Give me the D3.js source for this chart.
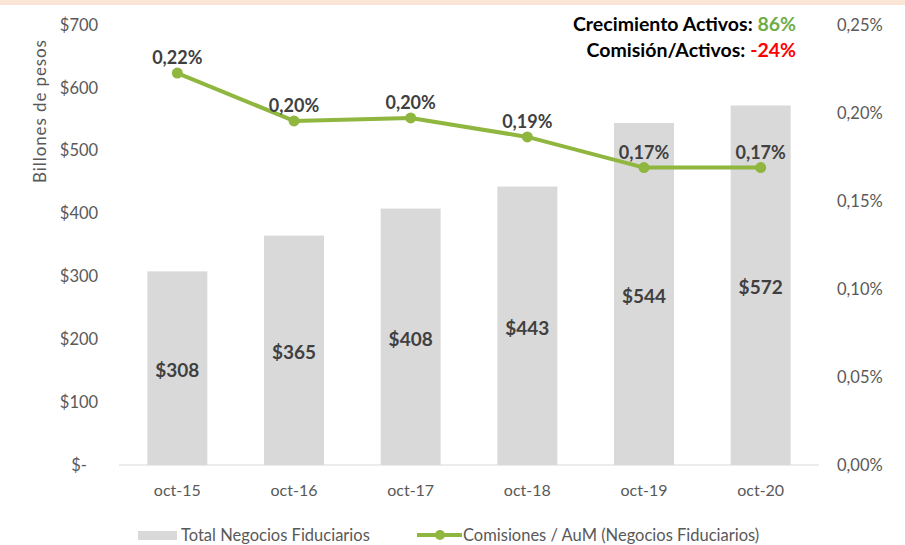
<!DOCTYPE html>
<html><head><meta charset="utf-8">
<script src="https://cdn.jsdelivr.net/npm/d3@7"></script>
<style>body{margin:0;background:#fff;}svg{display:block;font-family:Lato,"Open Sans",sans-serif;}</style>
</head><body>
<svg id="c" width="905" height="545"></svg>
<script>
const categories = ["oct-15","oct-16","oct-17","oct-18","oct-19","oct-20"];
const totalNegocios = [308,365,408,443,544,572];
const comisionesAuM = [0.2227,0.1955,0.1972,0.1864,0.1690,0.1690];
const comisionesLabels = ["0,22%","0,20%","0,20%","0,19%","0,17%","0,17%"];
const leftTicks = [0,100,200,300,400,500,600,700];
const rightTicks = [0,0.05,0.10,0.15,0.20,0.25];

const svg = d3.select("#c");
const W=905,H=545;
const m={l:119,r:86,t:25,b:80};
const x0=m.l,x1=W-m.r,y0=H-m.b,y1=m.t;
const green="#8fb63f", barC="#d9d9d9", txt="#595959", dark="#404040";

svg.append("rect").attr("x",0).attr("y",0).attr("width",W).attr("height",5).attr("fill","#fce4d6");

const x=d3.scaleBand().domain(categories).range([x0,x1]).paddingInner(0.486).paddingOuter(0.243);
const yL=d3.scaleLinear().domain([0,700]).range([y0,y1]);
const yR=d3.scaleLinear().domain([0,0.25]).range([y0,y1]);

// bars
svg.append("g").selectAll("rect").data(totalNegocios).join("rect")
  .attr("x",(d,i)=>x(categories[i])).attr("width",x.bandwidth())
  .attr("y",d=>yL(d)).attr("height",d=>yL(0)-yL(d)).attr("fill",barC);

// baseline
svg.append("line").attr("x1",x0).attr("x2",x1).attr("y1",y0).attr("y2",y0).attr("stroke","#d9d9d9").attr("stroke-width",1);

// left axis
const la=svg.append("g").attr("transform",`translate(${x0-40},0)`)
  .call(d3.axisLeft(yL).tickValues(leftTicks).tickSize(0).tickFormat(d=>d===0?"$-":"$"+d));
la.select(".domain").remove();
la.selectAll("text").attr("fill",txt).style("font-size","16.5px").attr("font-family","Lato").attr("text-anchor","middle").attr("x",0);

// right axis
const ra=svg.append("g").attr("transform",`translate(${x1+18},0)`)
  .call(d3.axisRight(yR).tickValues(rightTicks).tickSize(0).tickFormat(d=>d3.format(".2f")(d).replace(".",",")+"%"));
ra.select(".domain").remove();
ra.selectAll("text").attr("fill",txt).style("font-size","16.5px").attr("font-family","Lato").attr("x",0);

// x axis
const xa=svg.append("g").attr("transform",`translate(0,${y0})`)
  .call(d3.axisBottom(x).tickSize(0));
xa.select(".domain").remove();
xa.selectAll("text").attr("fill",txt).style("font-size","16px").attr("font-family","Lato").attr("dy","1.75em");

// y title
svg.append("text").attr("transform","translate(46,111) rotate(-90)").attr("text-anchor","middle")
  .attr("fill",txt).style("font-size","17px").style("letter-spacing","0.9px").text("Billones de pesos");

// bar labels
svg.append("g").selectAll("text").data(totalNegocios).join("text")
  .attr("x",(d,i)=>x(categories[i])+x.bandwidth()/2).attr("y",d=>(yL(d)+yL(0))/2+9)
  .attr("text-anchor","middle").attr("fill",dark).style("font-size","19px").style("font-weight","bold")
  .text(d=>"$"+d);

// line
const cx=(d,i)=>x(categories[i])+x.bandwidth()/2;
svg.append("path").datum(comisionesAuM)
  .attr("d",d3.line().x(cx).y(d=>yR(d)))
  .attr("fill","none").attr("stroke",green).attr("stroke-width",4).attr("stroke-linejoin","round");
svg.append("g").selectAll("circle").data(comisionesAuM).join("circle")
  .attr("cx",cx).attr("cy",d=>yR(d)).attr("r",5.5).attr("fill",green);
svg.append("g").selectAll("text").data(comisionesAuM).join("text")
  .attr("x",cx).attr("y",d=>yR(d)-9)
  .attr("text-anchor","middle").attr("fill",dark).style("font-size","18px").style("font-weight","bold")
  .text((d,i)=>comisionesLabels[i]);

// annotations
const a1=svg.append("text").attr("x",796).attr("y",31).attr("text-anchor","end").style("font-size","19.5px").style("font-weight","bold");
a1.append("tspan").attr("fill","#000").text("Crecimiento Activos: ");
a1.append("tspan").attr("fill","#70ad47").text("86%");
const a2=svg.append("text").attr("x",796).attr("y",57).attr("text-anchor","end").style("font-size","19.5px").style("font-weight","bold");
a2.append("tspan").attr("fill","#000").text("Comisión/Activos: ");
a2.append("tspan").attr("fill","#ff0000").text("-24%");

// legend
const lg=svg.append("g");
lg.append("rect").attr("x",138).attr("y",531).attr("width",39).attr("height",9).attr("fill",barC);
lg.append("text").attr("x",181).attr("y",541).attr("fill",txt).style("font-size","16.5px").text("Total Negocios Fiduciarios");
lg.append("line").attr("x1",417).attr("x2",462).attr("y1",535).attr("y2",535).attr("stroke",green).attr("stroke-width",4);
lg.append("circle").attr("cx",440).attr("cy",535).attr("r",5).attr("fill",green);
lg.append("text").attr("x",463).attr("y",541).attr("fill",txt).style("font-size","16.5px").text("Comisiones / AuM (Negocios Fiduciarios)");
</script>
</body></html>
